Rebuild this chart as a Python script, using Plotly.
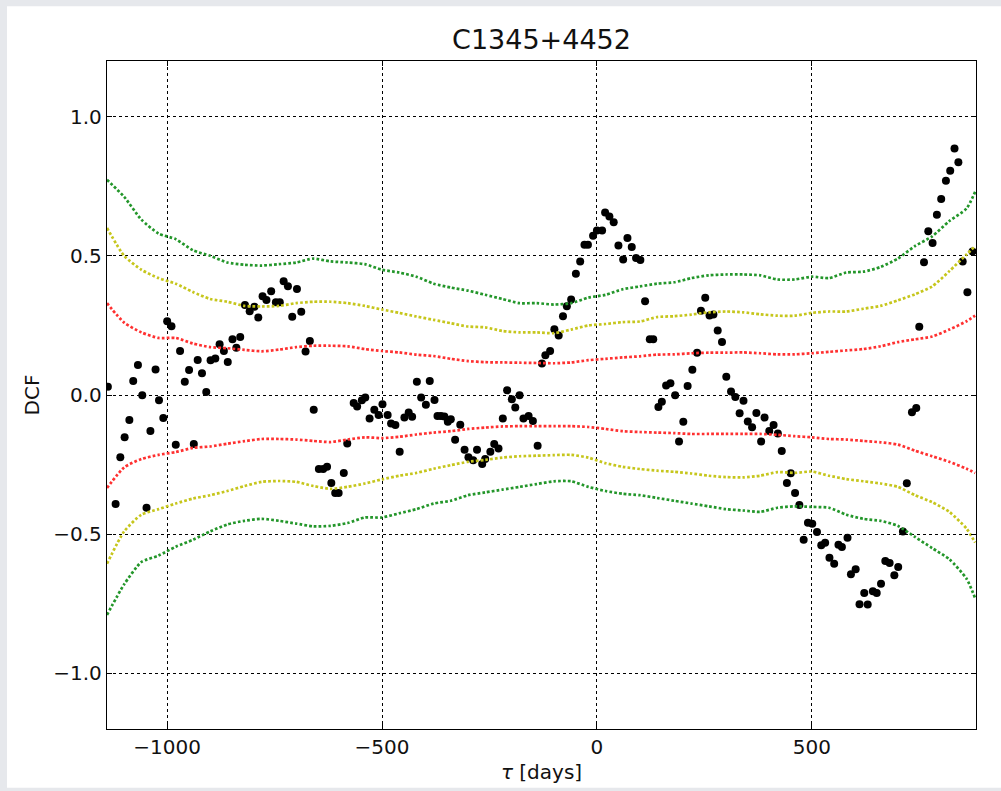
import plotly.graph_objects as go

# ---------------- data ----------------
dcf_tau = [-1138, -1120, -1109, -1099, -1088, -1079, -1068, -1058, -1048, -1039,
           -1027, -1019, -1009, -1000, -990, -980, -970, -959, -949, -938,
           -929, -919, -909, -899, -888, -878, -868, -859, -848, -839,
           -830, -819, -808, -797, -788, -778, -769, -758, -747, -738,
           -729, -719, -709, -698, -688, -678, -668, -659, -647, -637,
           -628, -618, -609, -601, -589, -581, -566, -558, -547, -539,
           -529, -518, -508, -499, -487, -479, -469, -459, -448, -438,
           -430, -419, -409, -398, -389, -378, -371, -363, -355, -347,
           -340, -330, -318, -308, -299, -288, -279, -267, -260, -248,
           -239, -229, -219, -209, -198, -190, -180, -171, -159, -149,
           -138, -128, -120, -109, -99, -89, -79, -70, -60, -49,
           -39, -29, -21, -9, 0, 12, 19, 29, 39, 50,
           61, 71, 81, 91, 101, 112, 123, 131, 143, 151,
           161, 171, 182, 191, 201, 211, 222, 233, 242, 252,
           262, 271, 281, 291, 301, 312, 322, 332, 341, 351,
           361, 371, 382, 390, 401, 411, 421, 430, 442, 451,
           461, 471, 481, 491, 501, 512, 522, 531, 541, 552,
           562, 570, 583, 591, 602, 611, 622, 630, 642, 651,
           661, 671, 681, 692, 701, 712, 721, 733, 743, 750,
           761, 771, 781, 791, 801, 812, 822, 832, 841, 851,
           862, 874]
dcf_val = [0.030, -0.392, -0.224, -0.152, -0.090, 0.050, 0.108, -0.001, -0.405, -0.129,
           0.092, -0.019, -0.083, 0.265, 0.247, -0.179, 0.158, 0.048, 0.090, -0.176,
           0.126, 0.078, 0.011, 0.125, 0.131, 0.182, 0.158, 0.119, 0.200, 0.170,
           0.208, 0.323, 0.301, 0.317, 0.278, 0.355, 0.341, 0.373, 0.333, 0.333,
           0.409, 0.391, 0.281, 0.381, 0.299, 0.156, 0.194, -0.053, -0.266, -0.266,
           -0.258, -0.316, -0.352, -0.352, -0.280, -0.174, -0.029, -0.041, -0.019, -0.009,
           -0.084, -0.053, -0.072, -0.033, -0.072, -0.102, -0.108, -0.204, -0.081, -0.063,
           -0.078, 0.048, -0.009, -0.035, 0.050, -0.018, -0.075, -0.075, -0.077, -0.096,
           -0.087, -0.161, -0.107, -0.197, -0.224, -0.234, -0.197, -0.248, -0.230, -0.204,
           -0.176, -0.192, -0.084, 0.017, -0.015, -0.045, -0.001, -0.084, -0.075, -0.093,
           -0.182, 0.113, 0.143, 0.158, 0.236, 0.214, 0.283, 0.319, 0.343, 0.436,
           0.480, 0.540, 0.540, 0.572, 0.591, 0.591, 0.656, 0.641, 0.621, 0.537,
           0.487, 0.564, 0.532, 0.492, 0.485, 0.337, 0.200, 0.200, -0.043, -0.024,
           0.034, 0.042, -0.001, -0.167, -0.096, 0.032, 0.091, 0.152, 0.303, 0.349,
           0.286, 0.289, 0.232, 0.190, 0.066, 0.013, -0.007, -0.066, -0.021, -0.095,
           -0.116, -0.065, -0.167, -0.081, -0.129, -0.108, -0.138, -0.201, -0.316, -0.281,
           -0.352, -0.395, -0.520, -0.459, -0.463, -0.492, -0.540, -0.531, -0.585, -0.606,
           -0.538, -0.546, -0.513, -0.644, -0.626, -0.752, -0.711, -0.753, -0.705, -0.711,
           -0.678, -0.596, -0.604, -0.648, -0.618, -0.490, -0.317, -0.062, -0.047, 0.245,
           0.477, 0.588, 0.546, 0.648, 0.704, 0.770, 0.806, 0.886, 0.836, 0.480,
           0.369, 0.516]

band_tau = [-1140, -1100, -1060, -1020, -980, -940, -900, -860, -820, -780,
            -740, -700, -660, -620, -580, -540, -500, -460, -420, -380,
            -340, -300, -260, -220, -180, -140, -100, -60, -20, 20,
            60, 100, 140, 180, 220, 260, 300, 340, 380, 420,
            460, 500, 540, 580, 620, 660, 700, 740, 780, 820,
            860, 880]

green_up = [0.773, 0.712, 0.630, 0.580, 0.560, 0.520, 0.500, 0.476, 0.468, 0.465,
            0.470, 0.476, 0.490, 0.480, 0.476, 0.470, 0.450, 0.440, 0.425, 0.400,
            0.386, 0.375, 0.360, 0.345, 0.330, 0.330, 0.325, 0.330, 0.350, 0.360,
            0.380, 0.390, 0.400, 0.405, 0.420, 0.430, 0.433, 0.433, 0.430, 0.415,
            0.415, 0.425, 0.420, 0.440, 0.443, 0.460, 0.490, 0.535, 0.570, 0.625,
            0.670, 0.730]
yellow_up = [0.600, 0.500, 0.450, 0.420, 0.400, 0.370, 0.345, 0.335, 0.320, 0.318,
             0.320, 0.330, 0.335, 0.335, 0.330, 0.320, 0.307, 0.295, 0.282, 0.270,
             0.258, 0.246, 0.243, 0.230, 0.225, 0.225, 0.222, 0.235, 0.250, 0.255,
             0.262, 0.264, 0.280, 0.283, 0.289, 0.297, 0.300, 0.297, 0.290, 0.285,
             0.285, 0.295, 0.300, 0.300, 0.310, 0.320, 0.340, 0.362, 0.390, 0.445,
             0.505, 0.535]
red_up = [0.330, 0.260, 0.225, 0.205, 0.205, 0.185, 0.172, 0.168, 0.162, 0.157,
          0.163, 0.172, 0.177, 0.177, 0.175, 0.165, 0.158, 0.153, 0.145, 0.140,
          0.130, 0.122, 0.118, 0.117, 0.116, 0.115, 0.114, 0.117, 0.125, 0.130,
          0.135, 0.139, 0.145, 0.146, 0.150, 0.152, 0.152, 0.153, 0.150, 0.146,
          0.146, 0.150, 0.155, 0.160, 0.165, 0.175, 0.190, 0.200, 0.210, 0.235,
          0.265, 0.285]
red_lo = [-0.334, -0.260, -0.230, -0.215, -0.205, -0.190, -0.185, -0.175, -0.166, -0.158,
          -0.158, -0.160, -0.165, -0.169, -0.160, -0.152, -0.155, -0.150, -0.142, -0.135,
          -0.130, -0.122, -0.117, -0.113, -0.112, -0.112, -0.112, -0.112, -0.115, -0.122,
          -0.130, -0.133, -0.135, -0.137, -0.140, -0.140, -0.140, -0.140, -0.140, -0.143,
          -0.148, -0.152, -0.158, -0.160, -0.165, -0.170, -0.178, -0.200, -0.220, -0.240,
          -0.265, -0.280]
yellow_lo = [-0.606, -0.490, -0.430, -0.410, -0.390, -0.372, -0.360, -0.345, -0.327, -0.312,
             -0.309, -0.312, -0.327, -0.337, -0.330, -0.318, -0.303, -0.290, -0.280, -0.265,
             -0.252, -0.240, -0.233, -0.225, -0.220, -0.218, -0.216, -0.215, -0.225, -0.245,
             -0.258, -0.266, -0.272, -0.276, -0.282, -0.290, -0.295, -0.296, -0.290, -0.277,
             -0.280, -0.275, -0.290, -0.302, -0.310, -0.318, -0.330, -0.360, -0.385, -0.420,
             -0.480, -0.530]
green_lo = [-0.790, -0.680, -0.600, -0.577, -0.545, -0.520, -0.490, -0.465, -0.452, -0.445,
            -0.452, -0.462, -0.472, -0.470, -0.460, -0.440, -0.440, -0.425, -0.410, -0.390,
            -0.380, -0.360, -0.350, -0.340, -0.330, -0.320, -0.310, -0.310, -0.330, -0.345,
            -0.355, -0.360, -0.370, -0.380, -0.390, -0.400, -0.410, -0.415, -0.420, -0.405,
            -0.400, -0.402, -0.405, -0.430, -0.445, -0.452, -0.470, -0.510, -0.550, -0.590,
            -0.660, -0.730]

x_ticks = [-1000, -500, 0, 500]
x_tick_text = ["\u22121000", "\u2212500", "0", "500"]
y_ticks = [-1.0, -0.5, 0.0, 0.5, 1.0]
y_tick_text = ["\u22121.0", "\u22120.5", "0.0", "0.5", "1.0"]

# ---------------- figure ----------------
FONT = "DejaVu Sans"
fig = go.Figure()

fig.add_trace(go.Scatter(x=dcf_tau, y=dcf_val, mode="markers",
                         marker=dict(color="black", size=8, line=dict(width=0)),
                         showlegend=False, hoverinfo="skip"))

bands = [(green_up, "#23962a"), (yellow_up, "#c6c61c"), (red_up, "#ff3030"),
         (red_lo, "#ff3030"), (yellow_lo, "#c6c61c"), (green_lo, "#23962a")]
for vals, col in bands:
    fig.add_trace(go.Scatter(x=band_tau, y=vals, mode="lines",
                             line=dict(color=col, width=2.7, dash="2.7px,2.1px", shape="spline", smoothing=0.6),
                             showlegend=False, hoverinfo="skip"))

axis_common = dict(showline=True, linecolor="black", linewidth=1.3, mirror="allticks",
                   ticks="inside", ticklen=5, tickwidth=1.3, tickcolor="black",
                   showgrid=True, gridcolor="black", gridwidth=1.4, griddash="dot",
                   zeroline=False, tickfont=dict(family=FONT, size=20, color="#111"))

fig.update_xaxes(range=[-1140, 882], tickvals=x_ticks, ticktext=x_tick_text,
                 title=dict(text="<i>\u03c4</i> [days]", font=dict(family=FONT, size=20, color="#111"), standoff=6),
                 **axis_common)
fig.update_yaxes(range=[-1.2, 1.2], tickvals=y_ticks, ticktext=y_tick_text,
                 title=dict(text="DCF", font=dict(family=FONT, size=20, color="#111"), standoff=8),
                 **axis_common)

fig.update_layout(
    width=1001, height=791,
    margin=dict(l=107, r=25, t=61, b=60),
    paper_bgcolor="#e6e8ec", plot_bgcolor="white",
    title=dict(text="C1345+4452", x=(107 + 976) / 2 / 1001, xanchor="center",
               y=1 - 40 / 791, yanchor="middle",
               font=dict(family=FONT, size=27, color="#111")),
    shapes=[dict(type="rect", xref="paper", yref="paper", layer="below",
                 x0=(7 - 107) / 869, x1=(1001 - 107) / 869,
                 y0=(731 - 790) / 670, y1=(731 - 6) / 670,
                 fillcolor="white", line=dict(width=0))],
)

fig.write_html("out.html")
